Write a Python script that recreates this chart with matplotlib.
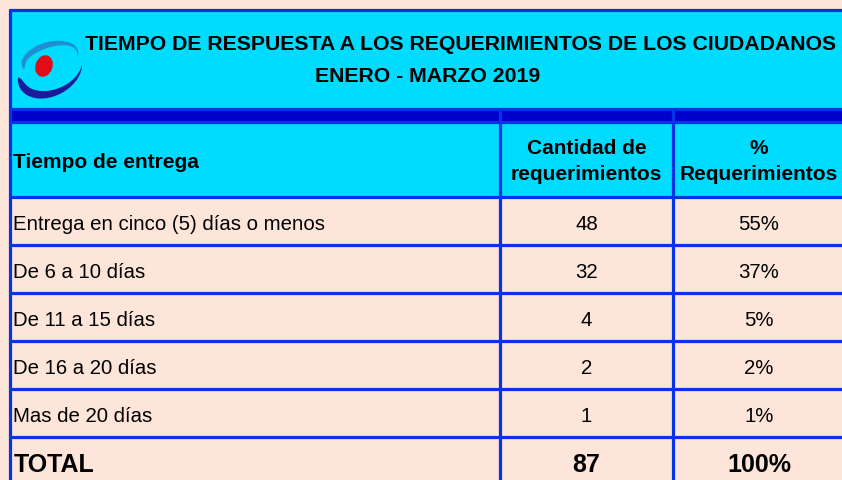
import numpy as np
import matplotlib
matplotlib.use("Agg")
import matplotlib.pyplot as plt
from matplotlib.patches import Rectangle, Polygon, Ellipse

plt.rcParams['font.family'] = ['Liberation Sans', 'DejaVu Sans']

title_line1 = "TIEMPO DE RESPUESTA A LOS REQUERIMIENTOS DE LOS CIUDADANOS"
title_line2 = "ENERO - MARZO 2019"
header_col1 = "Tiempo de entrega"
header_col2 = "Cantidad de\nrequerimientos"
header_col3 = "%\nRequerimientos"
categories = ["Entrega en cinco (5) días o menos", "De 6 a 10 días", "De 11 a 15 días",
              "De 16 a 20 días", "Mas de 20 días"]
counts = [48, 32, 4, 2, 1]
percents = ["55%", "37%", "5%", "2%", "1%"]
total_label = "TOTAL"
total_count = 87
total_percent = "100%"

W, H = 842, 480
PEACH = "#FDE5DA"
CYAN = "#00DCFF"
BLUE = "#0733E8"
DARK = "#0000CC"

fig = plt.figure(figsize=(W / 100, H / 100), dpi=100, facecolor=PEACH)
ax = fig.add_axes([0, 0, 1, 1])
ax.set_xlim(0, W)
ax.set_ylim(H, 0)
ax.axis('off')
ax.set_facecolor(PEACH)

# geometry
x_left = 10
col_x = [x_left, 500, 673, 850]
title_top, title_bot = 10, 109
band_top, band_bot = 109, 122
header_bot = 197
row_h = 48
row_tops = [header_bot + i * row_h for i in range(len(categories) + 1)]
lw = 2.3

ax.add_patch(Rectangle((x_left, title_top), W + 20 - x_left, title_bot - title_top, color=CYAN, lw=0))
ax.add_patch(Rectangle((x_left, band_top), W + 20 - x_left, band_bot - band_top, color=DARK, lw=0))
ax.add_patch(Rectangle((x_left, band_bot), W + 20 - x_left, header_bot - band_bot, color=CYAN, lw=0))

for y in [title_top, band_top, band_bot, header_bot] + row_tops[1:]:
    ax.plot([x_left - 1.5, W + 5], [y, y], color=BLUE, lw=lw, solid_capstyle='butt')
ax.plot([x_left, x_left], [title_top - 1.5, H + 5], color=BLUE, lw=lw, solid_capstyle='butt')
for x in col_x[1:3]:
    ax.plot([x, x], [band_top, H + 5], color=BLUE, lw=lw, solid_capstyle='butt')

# logo
def crescent(cx, cy, a, b, rot, t0, t1, thick, peak, color):
    s = np.linspace(0, 1, 120)
    t = np.radians(t0 + (t1 - t0) * s)
    sp = s ** (np.log(0.5) / np.log(peak))
    w = thick * np.sin(np.pi * sp) ** 0.9
    xo, yo = a * np.cos(t), b * np.sin(t)
    xi, yi = (a - w) * np.cos(t), (b - w) * np.sin(t)
    xs = np.concatenate([xo, xi[::-1]])
    ys = np.concatenate([yo, yi[::-1]])
    r = np.radians(rot)
    X = cx + xs * np.cos(r) - ys * np.sin(r)
    Y = cy + xs * np.sin(r) + ys * np.cos(r)
    ax.add_patch(Polygon(np.column_stack([X, Y]), closed=True, color=color, lw=0))

crescent(50, 58, 29, 16, -15, 165, 385, 6, 0.35, "#1E8FD0")
crescent(50, 72, 34, 24, -28, 205, 20, 8, 0.3, "#1A1A9A")
ax.add_patch(Ellipse((44, 66), 17, 22, angle=20, color="#E30B17", lw=0))

# title text
ax.text(85, 44, title_line1, fontsize=15.35, fontweight='bold', ha='left', va='center')
ax.text(428, 76, title_line2, fontsize=15.35, fontweight='bold', ha='center', va='center')

# header text
hy = (band_bot + header_bot) / 2 + 2
ax.text(13, hy + 1, header_col1, fontsize=15, fontweight='bold', ha='left', va='center')
ax.text((col_x[1] + col_x[2]) / 2, hy, header_col2, fontsize=15, fontweight='bold',
        ha='center', va='center', linespacing=1.5)
ax.text(759, hy, header_col3, fontsize=15, fontweight='bold',
        ha='center', va='center', linespacing=1.5)

c2 = (col_x[1] + col_x[2]) / 2
for i, (cat, n, p) in enumerate(zip(categories, counts, percents)):
    yc = (row_tops[i] + row_tops[i + 1]) / 2 + 3
    ax.text(13, yc, cat, fontsize=14.7, ha='left', va='center')
    ax.text(c2, yc, str(n), fontsize=14.7, ha='center', va='center')
    ax.text(759, yc, p, fontsize=14.7, ha='center', va='center')

yt = row_tops[-1] + 28
ax.text(14, yt, total_label, fontsize=18, fontweight='bold', ha='left', va='center')
ax.text(c2, yt, str(total_count), fontsize=18, fontweight='bold', ha='center', va='center')
ax.text(759, yt, total_percent, fontsize=18, fontweight='bold', ha='center', va='center')

fig.savefig("out.png", dpi=100, facecolor=PEACH)
